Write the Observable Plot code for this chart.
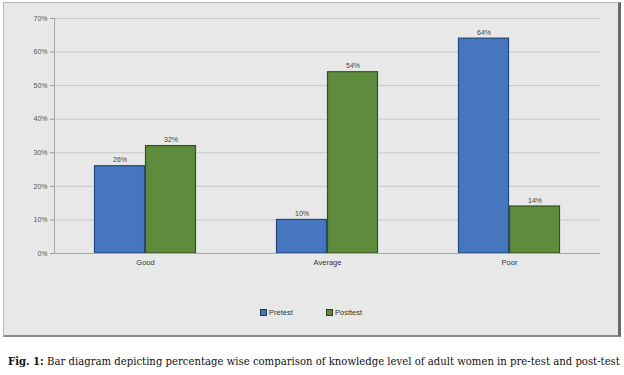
<!DOCTYPE html>
<html>
<head>
<meta charset="utf-8">
<script src="https://cdn.jsdelivr.net/npm/d3@7"></script>
<script src="https://cdn.jsdelivr.net/npm/@observablehq/plot@0.6"></script>
<style>
  body { margin: 0; background: #fff; width: 624px; height: 375px; position: relative; overflow: hidden; }
  #box { position: absolute; left: 3px; top: 2px; width: 614px; height: 332px;
         background: #e8e8e8; border: 1px solid #b8b8b8; border-right: 3px solid #6a6a6a; border-bottom: 2px solid #8a8a8a; }
  #chart { position: absolute; left: 0; top: 0; }
  #legend { position: absolute; top: 305px; left: 0; width: 614px; font-family: "Liberation Sans", Arial, sans-serif; font-size: 7.5px; color: #333; }
  .lg { position: absolute; display: flex; align-items: center; }
  .sw { width: 5px; height: 5px; margin-right: 2px; border: 0.5px solid #333; }
  #caption { position: absolute; left: 8px; top: 356px; font-family: "DejaVu Serif", "Liberation Serif", serif; font-size: 10px; color: #111; white-space: nowrap; }
</style>
</head>
<body>
<div id="box">
  <div id="chart"></div>
  <div id="legend"></div>
</div>
<div id="caption"></div>
<script>
const categories = ["Good", "Average", "Poor"];
const seriesNames = ["Pretest", "Posttest"];
const pretest = [26, 10, 64];
const posttest = [32, 54, 14];
const yTicks = [0, 10, 20, 30, 40, 50, 60, 70];
const colors = ["#4677be", "#5e8c3c"];
const strokes = ["#24497e", "#34521f"];
const captionBold = "Fig. 1:";
const captionText = " Bar diagram depicting percentage wise comparison of knowledge level of adult women in pre-test and post-test";

const data = [];
categories.forEach((c, i) => {
  data.push({category: c, series: seriesNames[0], value: pretest[i]});
  data.push({category: c, series: seriesNames[1], value: posttest[i]});
});

const plot = Plot.plot({
  width: 614,
  height: 280,
  marginLeft: 49,
  marginRight: 17,
  marginTop: 15,
  marginBottom: 30,
  style: {background: "transparent", fontFamily: "Liberation Sans, Arial, sans-serif", fontSize: "7px", color: "#444"},
  fx: {domain: categories, padding: 0, label: null, axis: null},
  x: {domain: seriesNames, paddingInner: 0, paddingOuter: 0.76, axis: null},
  y: {domain: [0, 70], ticks: yTicks, label: null},
  color: {domain: seriesNames, range: colors},
  marks: [
    Plot.ruleY(yTicks.filter(d => d > 0), {stroke: "#c8c8c8", strokeWidth: 1}),
    Plot.barY(data, {fx: "category", x: "series", y: "value", fill: "series", stroke: d => strokes[seriesNames.indexOf(d.series)], strokeWidth: 1.2, insetLeft: 0.5, insetRight: 0.5}),
    Plot.text(data, {fx: "category", x: "series", y: "value", text: d => d.value + "%", dy: -6, fill: "#444", fontSize: 7}),
    Plot.text(categories, {fx: d => d, frameAnchor: "bottom", dy: 11, text: d => d, fill: "#333", fontSize: 7.5}),
    Plot.ruleY([0], {stroke: "#a8a8a8"}),
    Plot.frame({anchor: "left", stroke: "#a8a8a8", facetAnchor: "left"}),
    Plot.axisY({ticks: yTicks, tickFormat: d => d + "%", tickSize: 4, stroke: "#999", fill: "#555", fontSize: 7, tickPadding: 3})
  ]
});
document.getElementById("chart").appendChild(plot);

const legend = document.getElementById("legend");
const lgPos = [256, 322];
seriesNames.forEach((s, i) => {
  const el = document.createElement("div");
  el.className = "lg";
  el.style.left = lgPos[i] + "px";
  el.innerHTML = `<span class="sw" style="background:${colors[i]}"></span><span>${s}</span>`;
  legend.appendChild(el);
});

const cap = document.getElementById("caption");
cap.innerHTML = `<b>${captionBold}</b>${captionText}`;
const w = cap.getBoundingClientRect().width;
cap.style.fontSize = (10 * 612 / w).toFixed(2) + "px";
</script>
</body>
</html>
